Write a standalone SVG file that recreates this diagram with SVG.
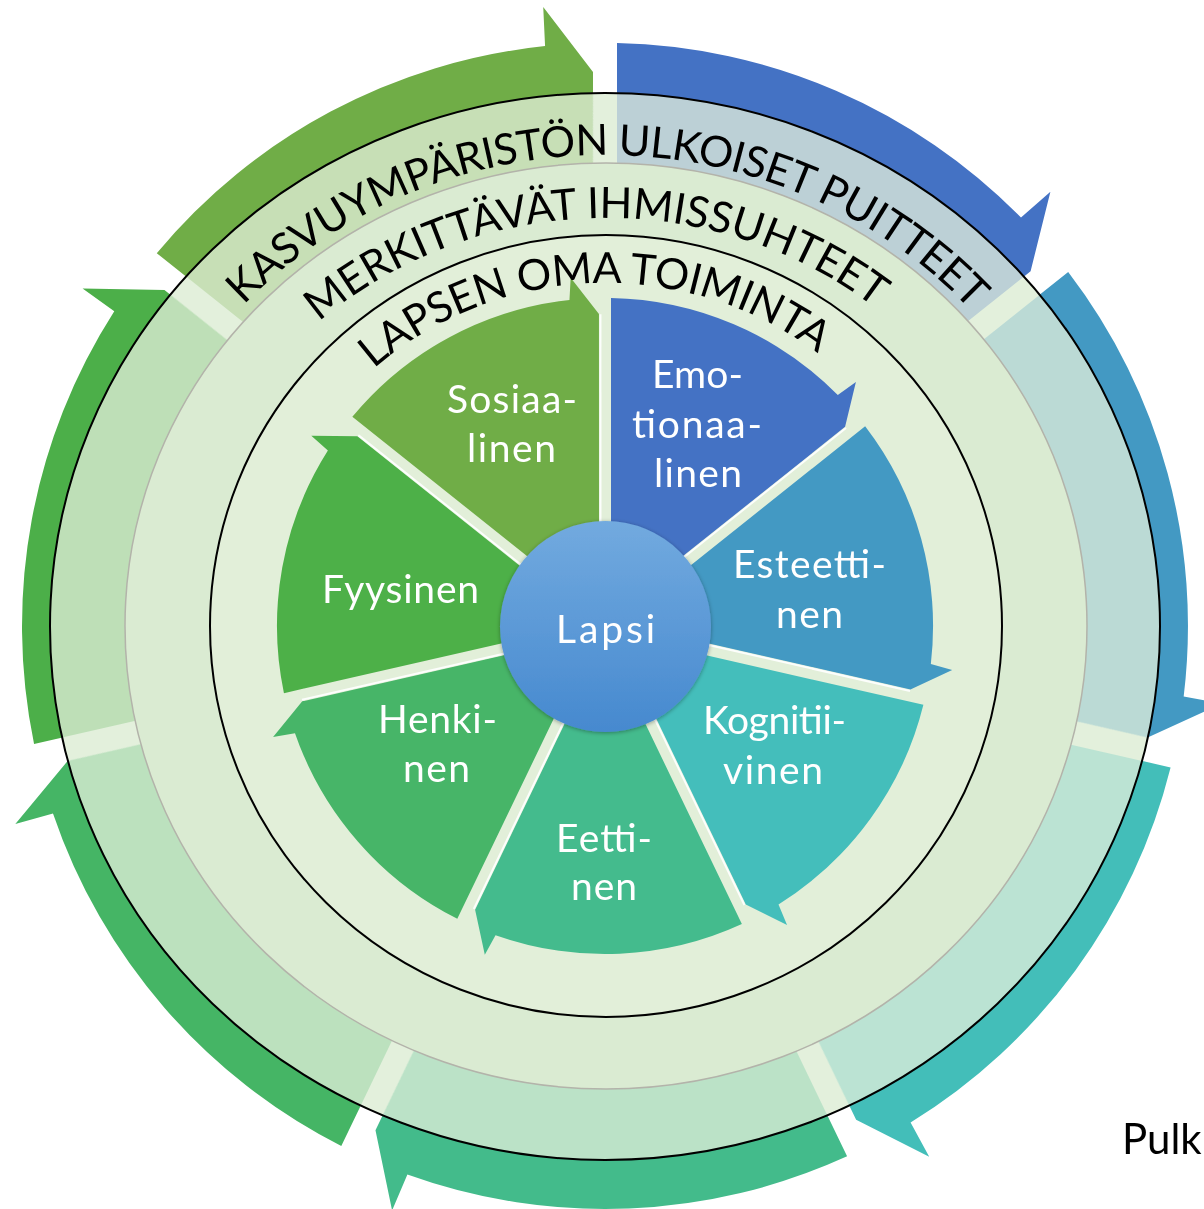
<svg xmlns="http://www.w3.org/2000/svg" width="1204" height="1209" viewBox="0 0 1204 1209">
<defs>
<style>
.ring-text { font-family: Lato, "Open Sans", "Liberation Sans", sans-serif; font-size: 43px; fill: #000; }
.seg-text { font-family: Lato, "Open Sans", "Liberation Sans", sans-serif; font-size: 39px; fill: #fff; text-anchor: middle; }
.hl { stroke: #ffffff; stroke-width: 2; fill: none; stroke-opacity: 0.9; }
</style>
<path id="arrowShape" d="M 12 -582.88 A 583 583 0 0 1 416.0 -408.4 L 445.4 -434.2 L 425.58 -354.73 L 336.53 -283.72 A 440.16 440.16 0 0 0 12 -440 Z"/>
<path id="segShape" d="M 6 -95 L 6 -327.95 A 328 328 0 0 1 232.8 -231.1 L 250.9 -244.0 L 240.1 -199.2 L 70.5 -63.9 Z"/>
<path id="segHL" d="M 241.0 -198.0 L 71.4 -62.7"/>
<clipPath id="clipOuter"><ellipse cx="605" cy="626.5" rx="555" ry="533.5"/></clipPath>
<linearGradient id="gLapsi" x1="0" y1="0" x2="0" y2="1">
<stop offset="0" stop-color="#72AADF"/>
<stop offset="1" stop-color="#4689CF"/>
</linearGradient>
<filter id="sh" x="-20%" y="-20%" width="140%" height="140%">
<feDropShadow dx="0" dy="1" stdDeviation="2" flood-color="#000" flood-opacity="0.35"/>
</filter>
<path id="pKasvu" d="M 112 626 A 493 471 0 0 1 1098 626"/>
<path id="pMerk" d="M 175 626 A 430 408 0 0 1 1035 626"/>
<path id="pLapsen" d="M 255 626 A 350 343 0 0 1 955 626"/>
</defs>

<g id="outer-arrows" transform="translate(605 626)">
<use id="arrow-emotionaalinen" href="#arrowShape" fill="#4472C4"/>
<use id="arrow-esteettinen" href="#arrowShape" transform="rotate(51.4286)" fill="#4399C3"/>
<use id="arrow-kognitiivinen" href="#arrowShape" transform="rotate(102.8571)" fill="#43BEB9"/>
<use id="arrow-eettinen" href="#arrowShape" transform="rotate(154.2857)" fill="#43BB8B"/>
<use id="arrow-henkinen" href="#arrowShape" transform="rotate(205.7143)" fill="#45B565"/>
<use id="arrow-fyysinen" href="#arrowShape" transform="rotate(257.1429)" fill="#4CAF49"/>
<use id="arrow-sosiaalinen" href="#arrowShape" transform="rotate(308.5714)" fill="#70AD47"/>
</g>

<g id="rings">
<ellipse cx="605" cy="626.5" rx="555" ry="533.5" fill="#E3F0DC"/>
<g clip-path="url(#clipOuter)" opacity="0.25">
<use href="#outer-arrows"/>
</g>
<ellipse cx="605" cy="626.5" rx="555" ry="533.5" fill="none" stroke="#000" stroke-width="2"/>
<ellipse cx="606" cy="626" rx="481" ry="463" fill="#DAEBD2" stroke="#B3B3AA" stroke-width="1.5"/>
<ellipse cx="606" cy="626" rx="396" ry="391" fill="#E2EFD9" stroke="#000" stroke-width="2"/>
</g>

<g id="seg-emotionaalinen">
<use href="#segShape" transform="translate(605 626)" fill="#4472C4"/>
<use href="#segHL" class="hl" transform="translate(605 626)"/>
<text class="seg-text" x="697.5" y="388" textLength="91">Emo-</text>
<text class="seg-text" x="697" y="438" textLength="130">tionaa-</text>
<text class="seg-text" x="698" y="487" textLength="88">linen</text>
</g>
<g id="seg-esteettinen">
<use href="#segShape" transform="translate(605 626) rotate(51.4286)" fill="#4399C3"/>
<use href="#segHL" class="hl" transform="translate(605 626) rotate(51.4286)"/>
<text class="seg-text" x="809.5" y="578" textLength="153">Esteetti-</text>
<text class="seg-text" x="809.5" y="628" textLength="67">nen</text>
</g>
<g id="seg-kognitiivinen">
<use href="#segShape" transform="translate(605 626) rotate(102.8571)" fill="#44BEBB"/>
<use href="#segHL" class="hl" transform="translate(605 626) rotate(102.8571)"/>
<text class="seg-text" x="774.5" y="734" textLength="143">Kognitii-</text>
<text class="seg-text" x="773" y="784" textLength="100">vinen</text>
</g>
<g id="seg-eettinen">
<use href="#segShape" transform="translate(605 626) rotate(154.2857)" fill="#44BB8D"/>
<use href="#segHL" class="hl" transform="translate(605 626) rotate(154.2857)"/>
<text class="seg-text" x="604" y="852" textLength="96">Eetti-</text>
<text class="seg-text" x="604" y="900" textLength="66">nen</text>
</g>
<g id="seg-henkinen">
<use href="#segShape" transform="translate(605 626) rotate(205.7143)" fill="#47B568"/>
<use href="#segHL" class="hl" transform="translate(605 626) rotate(205.7143)"/>
<text class="seg-text" x="437.5" y="733" textLength="119">Henki-</text>
<text class="seg-text" x="436.5" y="782" textLength="67">nen</text>
</g>
<g id="seg-fyysinen">
<use href="#segShape" transform="translate(605 626) rotate(257.1429)" fill="#4DB048"/>
<use href="#segHL" class="hl" transform="translate(605 626) rotate(257.1429)"/>
<text class="seg-text" x="400.5" y="603" textLength="157">Fyysinen</text>
</g>
<g id="seg-sosiaalinen">
<use href="#segShape" transform="translate(605 626) rotate(308.5714)" fill="#70AD47"/>
<use href="#segHL" class="hl" transform="translate(605 626) rotate(308.5714)"/>
<text class="seg-text" x="512" y="413" textLength="130">Sosiaa-</text>
<text class="seg-text" x="511.5" y="462" textLength="89">linen</text>
</g>

<g id="lapsi">
<circle cx="605.5" cy="626.5" r="105.5" fill="url(#gLapsi)" filter="url(#sh)"/>
<text class="seg-text" x="605.5" y="643" font-size="46" textLength="99">Lapsi</text>
</g>

<g id="ring-labels">
<text class="ring-text" text-anchor="middle" transform="rotate(0.4 605 626)"><textPath href="#pKasvu" startOffset="50%" textLength="810">KASVUYMPÄRISTÖN ULKOISET PUITTEET</textPath></text>
<text class="ring-text" text-anchor="middle" transform="rotate(-1.5 605 626)"><textPath href="#pMerk" startOffset="50%" textLength="600">MERKITTÄVÄT IHMISSUHTEET</textPath></text>
<text class="ring-text" text-anchor="middle" transform="rotate(-2 605 626)"><textPath href="#pLapsen" startOffset="50%" textLength="480">LAPSEN OMA TOIMINTA</textPath></text>
</g>

<text id="credit" x="1122" y="1154" font-family="Lato, 'Open Sans', 'Liberation Sans', sans-serif" font-size="42" fill="#000">Pulk</text>
</svg>
